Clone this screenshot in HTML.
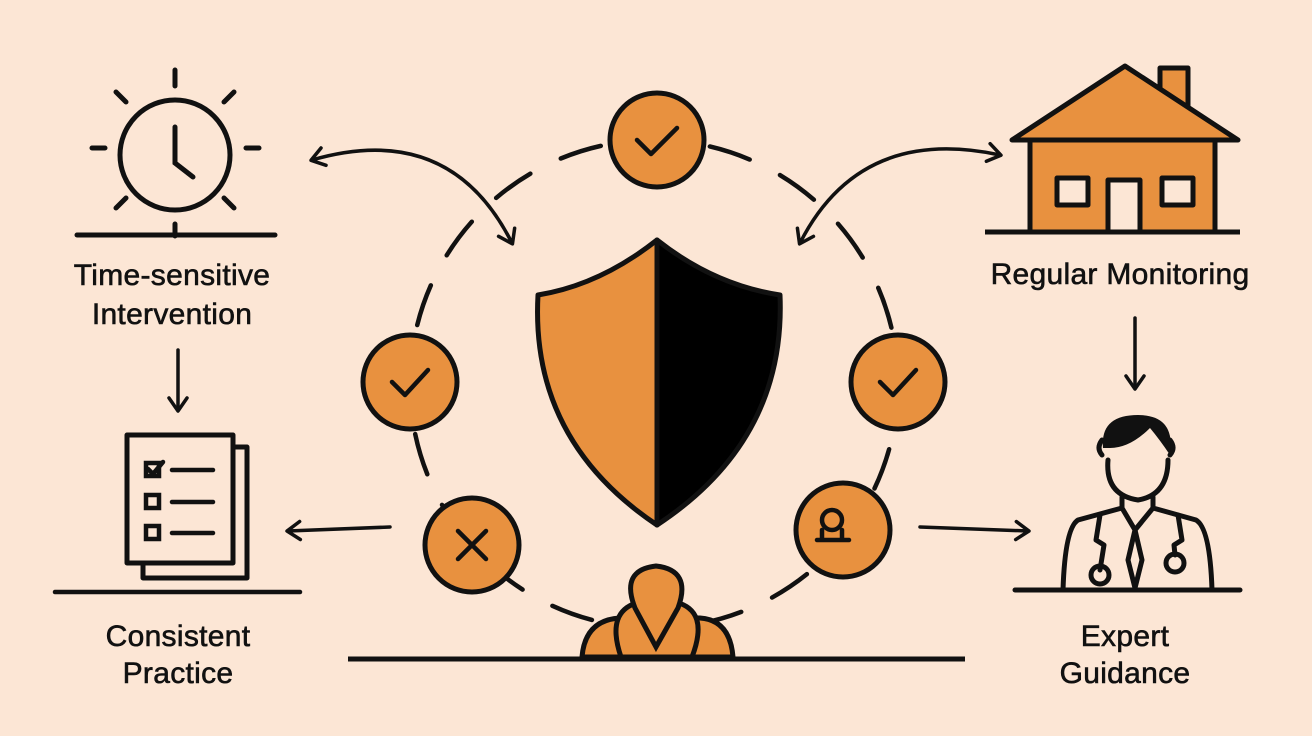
<!DOCTYPE html>
<html><head><style>body{margin:0;background:#fce6d5}svg{display:block}text{font-family:"Liberation Sans",sans-serif;font-size:30px;fill:#111;stroke:#111;stroke-width:0.6;letter-spacing:0.3px;text-anchor:middle}</style></head><body>
<svg width="1312" height="736" viewBox="0 0 1312 736" xmlns="http://www.w3.org/2000/svg">
<defs>
<marker id="b" markerWidth="22" markerHeight="22" refX="14" refY="11" orient="auto-start-reverse" markerUnits="userSpaceOnUse"><path d="M2,2 L15,11 L2,20" fill="none" stroke="#111" stroke-width="3.5" stroke-linecap="round" stroke-linejoin="round"/></marker></defs>
<rect width="1312" height="736" fill="#fce6d5"/>
<g fill="none" stroke="#111" stroke-width="4.5" stroke-linecap="round">
<circle cx="654" cy="384" r="244" stroke-dasharray="42 34" stroke-dashoffset="10"/>
</g>
<g stroke="#111" stroke-width="5" fill="#e8913f">
<circle cx="657" cy="140" r="47"/><circle cx="410" cy="382" r="47"/><circle cx="898" cy="382" r="47"/><circle cx="472" cy="545" r="47"/><circle cx="843" cy="530" r="47"/>
</g>
<g fill="none" stroke="#111" stroke-width="4.5" stroke-linecap="round" stroke-linejoin="round">
<path d="M637,140 L651,154 L677,128"/><path d="M392,382 L405,395 L428,370"/><path d="M880,382 L893,395 L916,370"/>
<path d="M458,531 L486,559 M486,531 L458,559"/>
<circle cx="832" cy="520" r="10"/><path d="M822,538 V530 M842,538 V530 M817,540 H849"/>
</g>
<path d="M657,240 Q600,285 538,295 Q530,440 657,525 Z" fill="#e8913f" stroke="#111" stroke-width="5" stroke-linejoin="round"/>
<path d="M657,240 Q714,285 780,295 Q786,440 657,525 Z" fill="#000" stroke="#111" stroke-width="5" stroke-linejoin="round"/>
<g fill="#e8913f" stroke="#111" stroke-width="5">
<path d="M582,657 Q585,620 620,618 L700,618 Q730,620 733,657 Z"/>
<path d="M621,657 Q605,610 640,602 L675,602 Q710,610 692,657 Z"/>
<path d="M656,647 L635,608 Q620,570 656,566 Q692,570 678,608 Z"/>
</g>
<line x1="348" y1="659" x2="965" y2="659" stroke="#111" stroke-width="5"/>
<g fill="none" stroke="#111" stroke-width="3.5" stroke-linecap="round">
<path d="M312,160 Q450,120 512,243" marker-start="url(#b)" marker-end="url(#b)"/>
<path d="M800,243 Q860,125 1000,155" marker-start="url(#b)" marker-end="url(#b)"/>
<path d="M390,527 L288,531" marker-end="url(#b)"/>
<path d="M920,527 L1028,531" marker-end="url(#b)"/>
<path d="M178,350 L178,410" marker-end="url(#b)"/>
<path d="M1135,318 L1135,388" marker-end="url(#b)"/>
</g>
<g fill="none" stroke="#111" stroke-width="5" stroke-linecap="round">
<circle cx="175" cy="155" r="55"/>
<path d="M175,127 V163 L193,177"/>
<path d="M175,70 V86 M175,224 V236 M92,148 H105 M246,148 H259 M116,92 L126,102 M234,92 L224,102 M116,208 L126,198 M234,208 L224,198"/>
<line x1="77" y1="235" x2="275" y2="235"/>
</g>
<text x="172" y="285">Time-sensitive</text><text x="172" y="324">Intervention</text>
<g fill="#fce6d5" stroke="#111" stroke-width="5" stroke-linejoin="round">
<rect x="143" y="447" width="104" height="131"/><rect x="127" y="435" width="106" height="128"/>
</g>
<g fill="none" stroke="#111" stroke-width="4.5" stroke-linecap="round">
<rect x="146" y="463" width="13" height="13"/><rect x="146" y="495" width="13" height="13"/><rect x="146" y="526" width="13" height="13"/>
<path d="M148,469 L153,474 L163,462"/>
<path d="M172,470 H213 M172,502 H213 M172,533 H213"/>
<line x1="55" y1="592" x2="300" y2="592"/>
</g>
<text x="178" y="646">Consistent</text><text x="178" y="683">Practice</text>
<g stroke="#111" stroke-width="5" stroke-linejoin="round">
<rect x="1160" y="68" width="28" height="40" fill="#e8913f"/>
<path d="M1012,140 L1125,66 L1238,140 Z" fill="#e8913f"/>
<rect x="1030" y="140" width="185" height="92" fill="#e8913f"/>
<rect x="1057" y="178" width="31" height="27" fill="#fce6d5"/><rect x="1162" y="178" width="31" height="27" fill="#fce6d5"/>
<rect x="1108" y="180" width="32" height="52" fill="#fce6d5"/>
</g>
<line x1="985" y1="232" x2="1240" y2="232" stroke="#111" stroke-width="5"/>
<text x="1120" y="284">Regular Monitoring</text>
<g fill="none" stroke="#111" stroke-width="5" stroke-linejoin="round" stroke-linecap="round">
<path d="M1108,460 Q1105,495 1138,500 Q1168,495 1168,460"/>
<path d="M1102,455 Q1096,448 1102,440 M1170,455 Q1176,448 1170,440"/>
<path d="M1122,497 V508 L1078,520 Q1065,528 1063,590 M1153,497 V508 L1196,520 Q1210,528 1212,590"/>
<path d="M1122,508 L1135,530 L1153,508 M1135,530 L1128,560 L1135,588 L1142,560 Z"/>
<path d="M1100,515 L1096,540 L1104,545 L1100,570 M1178,515 L1182,540 L1174,545 L1175,555"/>
<circle cx="1100" cy="575" r="9"/><circle cx="1175" cy="563" r="9"/>
<line x1="1015" y1="590" x2="1240" y2="590"/>
</g>
<path d="M1103,448 Q1100,415 1138,415 Q1176,415 1170,455 Q1160,440 1150,428 Q1130,448 1110,448 Z" fill="#111"/>
<text x="1125" y="646">Expert</text><text x="1125" y="683">Guidance</text>
</svg>
</body></html>
